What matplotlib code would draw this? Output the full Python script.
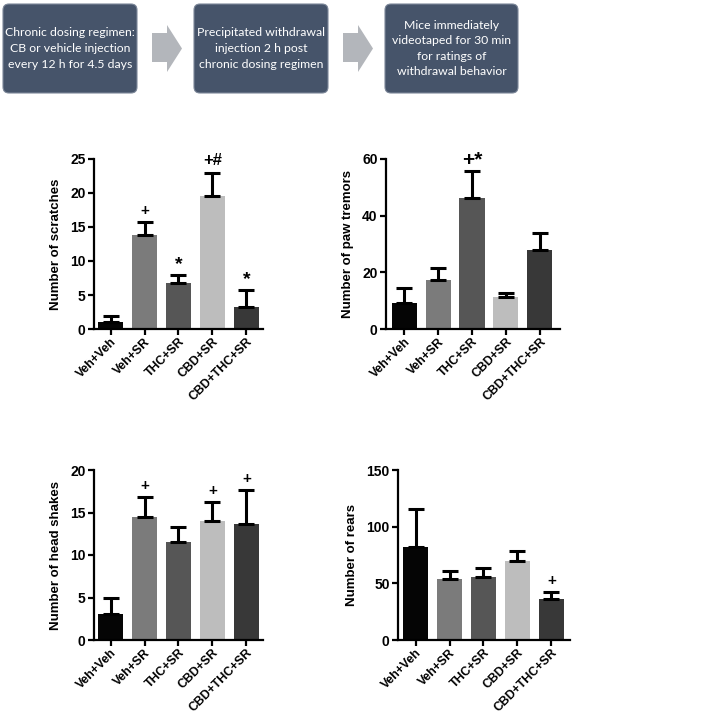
#!/usr/bin/env python3
# Retirada precipitada: fluxograma + 4 painéis de barras estilo GraphPad

import numpy as np
import matplotlib
matplotlib.use("Agg")
import matplotlib.pyplot as plt
from matplotlib.patches import FancyBboxPatch, Polygon

# --- DADOS ---
grupos = ["Veh+Veh", "Veh+SR", "THC+SR", "CBD+SR", "CBD+THC+SR"]
cores_barras = ["#050505", "#7b7b7b", "#565656", "#bdbdbd", "#383838"]

scratches_mean = [1.1, 13.8, 6.8, 19.5, 3.3]
scratches_sem = [0.8, 1.9, 1.2, 3.5, 2.5]
scratches_sig = ["", "+", "*", "+#", "*"]

tremors_mean = [9.3, 17.3, 46.1, 11.4, 27.9]
tremors_sem = [5.2, 4.4, 9.7, 1.4, 6.0]
tremors_sig = ["", "", "+*", "", ""]

shakes_mean = [3.1, 14.5, 11.5, 14.0, 13.7]
shakes_sem = [1.9, 2.3, 1.8, 2.2, 3.9]
shakes_sig = ["", "+", "", "+", "+"]

rears_mean = [82.5, 54.1, 55.6, 69.5, 36.1]
rears_sem = [33.5, 7.1, 8.3, 8.9, 6.2]
rears_sig = ["", "", "", "", "+"]

passos = [
    "Chronic dosing regimen:\nCB or vehicle injection\nevery 12 h for 4.5 days",
    "Precipitated withdrawal\ninjection 2 h post\nchronic dosing regimen",
    "Mice immediately\nvideotaped for 30 min\nfor ratings of\nwithdrawal behavior",
]

# --- CONFIG ---
W, H = 709, 715
BOX_COR = "#46546a"
SETA_COR = "#b3b6bb"
FONTE_EIXO = ["Liberation Sans", "DejaVu Sans"]
FONTE_CAIXA = ["Lato", "DejaVu Sans"]
TAM_SIG = {"+": 11, "*": 14, "+#": 12, "+*": 15}


def px_axes(fig, x0, x1, ytop, ybot):
    return fig.add_axes([x0 / W, (H - ybot) / H, (x1 - x0) / W, (ybot - ytop) / H])


def painel(ax, medias, erros, sig, ylabel, ymax, passo, xlim):
    x = np.arange(len(grupos))
    ax.bar(x, medias, width=0.74, color=cores_barras, zorder=2)
    ax.errorbar(x, medias, yerr=[np.zeros(len(x)), erros], fmt="none",
                ecolor="black", elinewidth=2.2, capsize=5.5, capthick=2.2, zorder=3)
    for xi, m, e, s in zip(x, medias, erros, sig):
        if s:
            ax.annotate(s, (xi, m + e), xytext=(0, 1 if "*" in s else 3),
                        textcoords="offset points", ha="center", va="bottom",
                        fontsize=TAM_SIG[s], fontweight="bold", family=FONTE_EIXO)
    ax.set_ylim(0, ymax)
    ax.set_xlim(*xlim)
    ax.set_yticks(np.arange(0, ymax + 0.1, passo))
    ax.set_xticks(x)
    ax.set_xticklabels(grupos, rotation=45, ha="right", rotation_mode="anchor",
                       fontsize=8.8, fontweight="bold", family=FONTE_EIXO)
    for t in ax.get_yticklabels():
        t.set_fontsize(10)
        t.set_fontweight("bold")
        t.set_family(FONTE_EIXO)
    ax.set_ylabel(ylabel, fontsize=9.5, fontweight="bold", family=FONTE_EIXO, labelpad=6)
    for lado in ("top", "right"):
        ax.spines[lado].set_visible(False)
    for lado in ("left", "bottom"):
        ax.spines[lado].set_linewidth(1.6)
    ax.tick_params(axis="both", length=4, width=1.6, pad=2)
    ax.tick_params(axis="x", pad=1)


fig = plt.figure(figsize=(W / 100, H / 100), dpi=100)

# --- fluxograma ---
fl = fig.add_axes([0, 0, 1, 1])
fl.set_xlim(0, W)
fl.set_ylim(H, 0)
fl.axis("off")

caixas_x = [(3, 137), (194, 328), (385, 518)]
for (a, b), txt in zip(caixas_x, passos):
    fl.add_patch(FancyBboxPatch((a + 4, 8), b - a - 8, 81,
                                boxstyle="round,pad=4,rounding_size=6",
                                fc=BOX_COR, ec="#7d8899", lw=0.8))
    fl.text((a + b) / 2, 48.5, txt, ha="center", va="center", color="white",
            fontsize=8.8, family=FONTE_CAIXA, linespacing=1.5)

for x0 in (152, 343):
    fl.add_patch(Polygon([(x0, 33), (x0 + 15, 33), (x0 + 15, 25), (x0 + 30, 48.5),
                          (x0 + 15, 72), (x0 + 15, 62), (x0, 62)],
                         closed=True, fc=SETA_COR, ec="none"))

# --- painéis ---
ax1 = px_axes(fig, 94, 263, 159, 329)
painel(ax1, scratches_mean, scratches_sem, scratches_sig,
       "Number of scratches", 25, 5, (-0.49, 4.49))

ax2 = px_axes(fig, 386, 560, 159, 329)
painel(ax2, tremors_mean, tremors_sem, tremors_sig,
       "Number of paw tremors", 60, 20, (-0.54, 4.6))

ax3 = px_axes(fig, 94, 263, 470, 640)
painel(ax3, shakes_mean, shakes_sem, shakes_sig,
       "Number of head shakes", 20, 5, (-0.49, 4.49))

ax4 = px_axes(fig, 398, 570, 470, 640)
painel(ax4, rears_mean, rears_sem, rears_sig,
       "Number of rears", 150, 50, (-0.52, 4.55))

fig.savefig("out.png", dpi=100)
